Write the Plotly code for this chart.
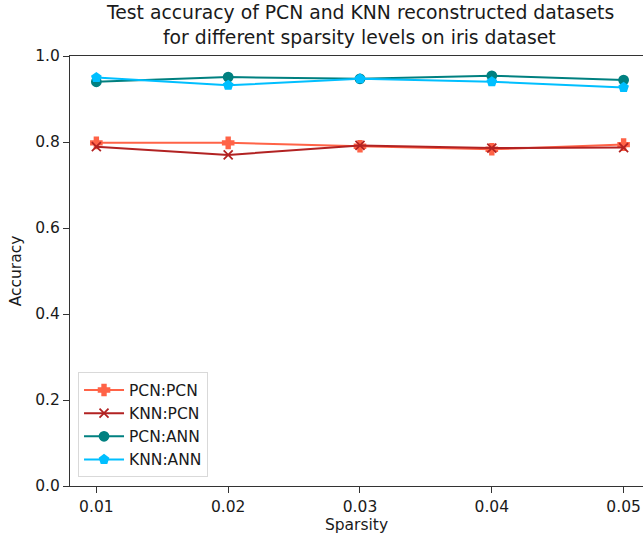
import plotly.graph_objects as go

sparsity = [0.01, 0.02, 0.03, 0.04, 0.05]
pcn_pcn = [0.798, 0.798, 0.790, 0.783, 0.794]
knn_pcn = [0.789, 0.770, 0.792, 0.786, 0.787]
pcn_ann = [0.940, 0.951, 0.947, 0.954, 0.944]
knn_ann = [0.950, 0.932, 0.947, 0.940, 0.927]

title_lines = ["Test accuracy of PCN and KNN reconstructed datasets",
               "for different sparsity levels on iris dataset"]

series = [
    ("PCN:PCN", pcn_pcn, "#FF6347", "cross", 9),
    ("KNN:PCN", knn_pcn, "#B22222", "x-thin-open", 9),
    ("PCN:ANN", pcn_ann, "#008080", "circle", 9),
    ("KNN:ANN", knn_ann, "#00BFFF", "pentagon", 9),
]

fig = go.Figure()
for i, (name, vals, color, sym, size) in enumerate(series):
    fig.add_trace(go.Scatter(
        x=sparsity, y=vals, name=name, mode="lines+markers",
        line=dict(color=color, width=2),
        marker=dict(symbol=sym, size=size, color=color,
                    line=dict(color=color, width=1.8)),
        legendgroup=f"g{i}",
    ))

for text, yy in zip(title_lines, [1.100, 1.044]):
    fig.add_annotation(text=text, xref="paper", yref="paper",
                       x=0.506, y=yy, xanchor="center", yanchor="middle",
                       showarrow=False,
                       font=dict(size=18.8, family="DejaVu Sans", color="#1a1a1a"))

fig.update_layout(
    width=643, height=541,
    margin=dict(l=70, r=0, t=56, b=55),
    plot_bgcolor="white", paper_bgcolor="white",
    font=dict(family="DejaVu Sans", size=15.5, color="#1a1a1a"),
    showlegend=True,
    legend=dict(
        x=0.014, y=0.02, xanchor="left", yanchor="bottom",
        bgcolor="white", bordercolor="#d9d9d9", borderwidth=1,
        font=dict(size=15.5), traceorder="grouped", tracegroupgap=0,
        itemwidth=40,
    ),
    xaxis=dict(
        range=[0.008, 0.05147], tickvals=sparsity,
        ticktext=["0.01", "0.02", "0.03", "0.04", "0.05"],
        ticks="outside", ticklen=6, tickcolor="#333",
        showline=True, linecolor="#333", linewidth=1.2, mirror=True,
        showgrid=False, zeroline=False,
        title=dict(text="Sparsity", font=dict(size=15.5), standoff=4),
    ),
    yaxis=dict(
        range=[0, 1.0], tickvals=[0, 0.2, 0.4, 0.6, 0.8, 1.0],
        ticktext=["0.0", "0.2", "0.4", "0.6", "0.8", "1.0"],
        ticks="outside", ticklen=6, tickcolor="#333",
        showline=True, linecolor="#333", linewidth=1.2, mirror=False,
        showgrid=False, zeroline=False,
        title=dict(text="Accuracy", font=dict(size=15.5), standoff=9),
    ),
)

fig.write_html("out.html")
